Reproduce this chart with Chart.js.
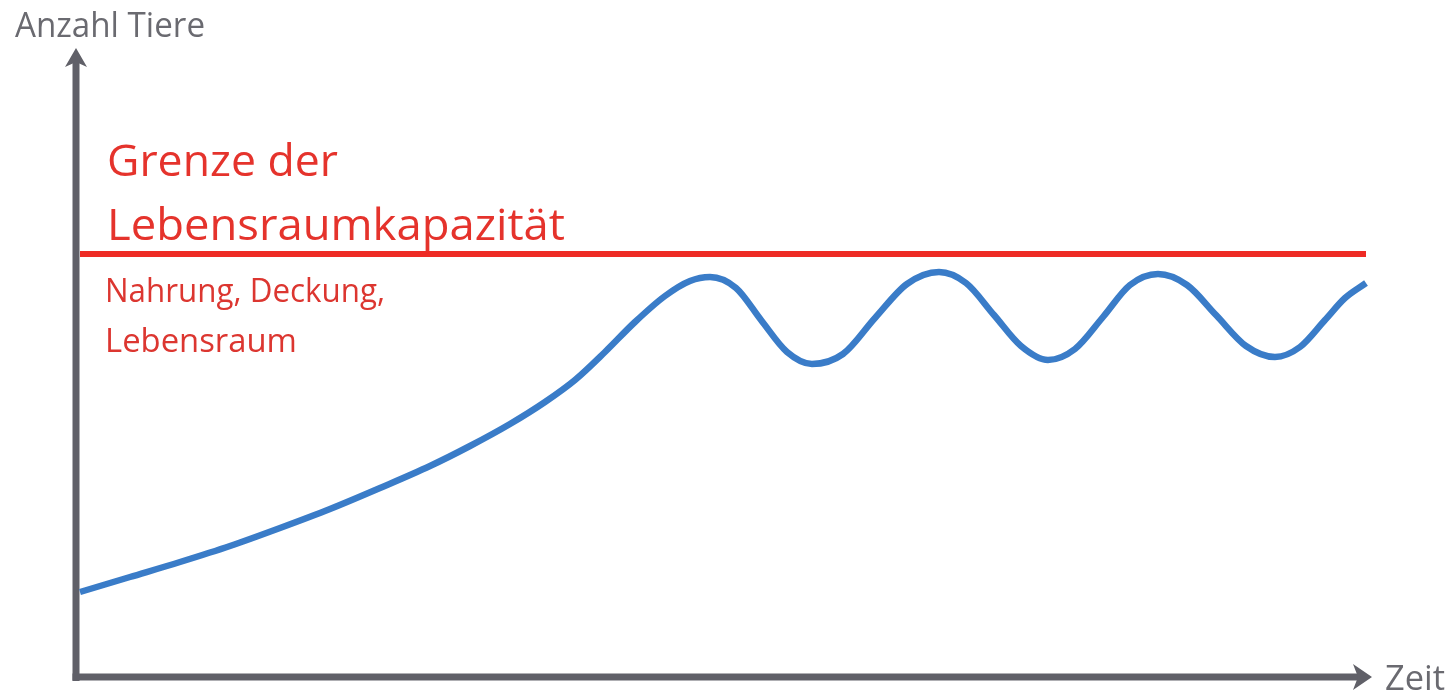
<!DOCTYPE html>
<html>
<head>
<meta charset="utf-8">
<script src="https://cdn.jsdelivr.net/npm/chart.js@4/dist/chart.umd.min.js"></script>
<style>
html,body{margin:0;padding:0;background:#fff;}
#wrap{width:1452px;height:696px;position:relative;}
</style>
</head>
<body>
<div id="wrap"><canvas id="c" width="1452" height="696"></canvas></div>
<script>
// ---- data (time units along x, number of animals along y) ----
const time = [4,54,104,154,204,254,304,354,394,434,469,499,529,559,589,614,634,
              660,685,711,736,767,799,831,863,890,918,945,972,999,1027,1054,1082,1111,1140,1170,1199,1224,1249,1269,1290];
const animals = [85,100,115,131,149,168,189,211,231,253,275,297,325,355,381,396,400,
                 389,357,325,313,323,359,393,405,394,362,331,317,328,360,392,403,392,362,331,320,330,357,379,394];
const capacityTime = [4,1290];
const capacityLevel = [423,423];
const xMax = 1296, yMax = 629;

const labels = {
  yTitle: 'Anzahl Tiere',
  xTitle: 'Zeit',
  limit1: 'Grenze der',
  limit2: 'Lebensraumkapazität',
  sub1: 'Nahrung, Deckung,',
  sub2: 'Lebensraum'
};

function fitText(ctx, text, x, y, width, font, color){
  ctx.save();
  ctx.font = font;
  ctx.fillStyle = color;
  ctx.textBaseline = 'alphabetic';
  ctx.textAlign = 'left';
  const w = ctx.measureText(text).width;
  const sx = width / w;
  ctx.translate(x, y);
  ctx.scale(sx, 1);
  ctx.fillText(text, 0, 0);
  ctx.restore();
}

const decor = {
  id: 'decor',
  beforeDatasetsDraw(chart){
    const ctx = chart.ctx;
    const xs = chart.scales.x, ys = chart.scales.y;
    const x0 = xs.getPixelForValue(0), y0 = ys.getPixelForValue(0);
    const xEnd = xs.getPixelForValue(xMax), yTop = ys.getPixelForValue(yMax);
    const axisColor = '#606068';
    ctx.save();
    ctx.strokeStyle = axisColor;
    ctx.fillStyle = axisColor;
    ctx.lineWidth = 7;
    ctx.lineCap = 'butt';
    ctx.beginPath();
    ctx.moveTo(x0, y0 + 4);
    ctx.lineTo(x0, yTop + 14);
    ctx.stroke();
    ctx.beginPath();
    ctx.moveTo(x0 - 3.5, y0);
    ctx.lineTo(xEnd - 14, y0);
    ctx.stroke();
    ctx.beginPath();
    ctx.moveTo(x0, yTop);
    ctx.lineTo(x0 + 11, yTop + 19);
    ctx.lineTo(x0, yTop + 14);
    ctx.lineTo(x0 - 11, yTop + 19);
    ctx.closePath();
    ctx.fill();
    ctx.beginPath();
    ctx.moveTo(xEnd, y0);
    ctx.lineTo(xEnd - 19, y0 - 13);
    ctx.lineTo(xEnd - 14, y0);
    ctx.lineTo(xEnd - 19, y0 + 13);
    ctx.closePath();
    ctx.fill();
    ctx.restore();

    const gray = '#6a6a70';
    const red = '#e5332c';
    fitText(ctx, labels.yTitle, 15, 37, 190, '34px "Open Sans"', gray);
    fitText(ctx, labels.xTitle, 1385, 690, 60, '34px "Open Sans"', gray);
    fitText(ctx, labels.limit1, 107, 176, 231, '44px "Open Sans"', red);
    fitText(ctx, labels.limit2, 107, 240, 458, '44px "Open Sans"', red);
    fitText(ctx, labels.sub1, 105, 302, 280, '33px "Open Sans"', '#dc3630');
    fitText(ctx, labels.sub2, 105, 352, 192, '33px "Open Sans"', '#dc3630');
  }
};

new Chart(document.getElementById('c'), {
  type: 'line',
  data: {
    datasets: [
      {
        label: 'Kapazität',
        data: capacityTime.map((t,i)=>({x:t, y:capacityLevel[i]})),
        borderColor: '#ee2b25',
        borderWidth: 6,
        pointRadius: 0,
        borderCapStyle: 'butt',
        tension: 0
      },
      {
        label: 'Anzahl Tiere',
        data: time.map((t,i)=>({x:t, y:animals[i]})),
        borderColor: '#3a7cc8',
        borderWidth: 6.5,
        pointRadius: 0,
        borderCapStyle: 'butt',
        borderJoinStyle: 'round',
        cubicInterpolationMode: 'monotone'
      }
    ]
  },
  options: {
    responsive: false,
    animation: false,
    devicePixelRatio: 1,
    layout: { padding: { left: 76, right: 80, top: 48, bottom: 19 } },
    plugins: { legend: { display: false }, tooltip: { enabled: false } },
    scales: {
      x: { type: 'linear', min: 0, max: xMax, display: false },
      y: { type: 'linear', min: 0, max: yMax, display: false }
    }
  },
  plugins: [decor]
});
</script>
</body>
</html>
